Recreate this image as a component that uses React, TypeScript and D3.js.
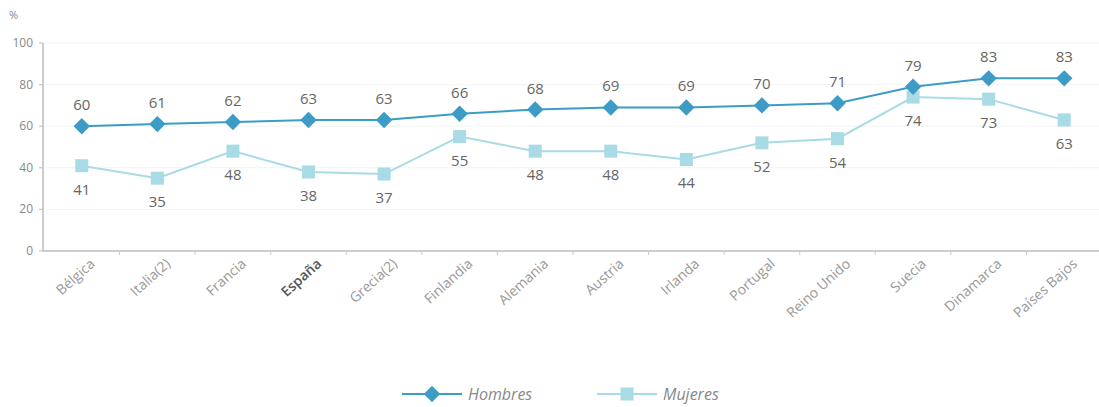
import React from "react";
import * as d3 from "d3";

const countries = [
  "Bélgica", "Italia(2)", "Francia", "España", "Grecia(2)", "Finlandia", "Alemania",
  "Austria", "Irlanda", "Portugal", "Reino Unido", "Suecia", "Dinamarca", "Países Bajos",
];
const hombres = [60, 61, 62, 63, 63, 66, 68, 69, 69, 70, 71, 79, 83, 83];
const mujeres = [41, 35, 48, 38, 37, 55, 48, 48, 44, 52, 54, 74, 73, 63];
const yTicks = [0, 20, 40, 60, 80, 100];

const W = 1099;
const H = 407;
const HOMBRES_COLOR = "#3d9cc6";
const MUJERES_COLOR = "#a9dbe6";
const FONT = "'Open Sans', sans-serif";

export default function App() {
  const x = d3.scaleBand<string>().domain(countries).range([44, 1102]);
  const y = d3.scaleLinear().domain([0, 100]).range([251, 43]);
  const cx = (c: string) => (x(c) ?? 0) + x.bandwidth() / 2;

  const line = d3
    .line<number>()
    .x((_, i) => cx(countries[i]))
    .y((d) => y(d));

  // diamond = square turned 45 degrees
  const diamond = d3.symbol(d3.symbolSquare, 135)();
  const square = d3.symbol(d3.symbolSquare, 170)();

  return (
    <svg width={W} height={H} style={{ position: "absolute", left: 0, top: 0, background: "#fff" }}>
      <g fontFamily={FONT}>
        {/* grid */}
        {yTicks.slice(1).map((t) => (
          <line key={t} x1={44} x2={1099} y1={y(t)} y2={y(t)} stroke="#f3f3f3" />
        ))}
        {/* y axis */}
        <line x1={43} x2={43} y1={y(100)} y2={y(0)} stroke="#9a9a9a" />
        {yTicks.map((t) => (
          <g key={t}>
            <line x1={39} x2={43} y1={y(t)} y2={y(t)} stroke="#bbb" />
            <text x={33} y={y(t) + 4} textAnchor="end" fontSize={12} fill="#888">
              {t}
            </text>
          </g>
        ))}
        <text x={9} y={19} fontSize={11} fill="#888">%</text>
        {/* x axis */}
        <line x1={43} x2={1099} y1={y(0)} y2={y(0)} stroke="#9a9a9a" />
        {countries.slice(1).map((c) => (
          <line key={c} x1={x(c)} x2={x(c)} y1={y(0)} y2={y(0) + 4} stroke="#ccc" />
        ))}
        {countries.map((c) => (
          <text
            key={c}
            transform={`translate(${cx(c) + 14},${y(0) + 14}) rotate(-42)`}
            textAnchor="end"
            fontSize={14}
            fill={c === "España" ? "#555" : "#999"}
            fontWeight={c === "España" ? 600 : 400}
          >
            {c}
          </text>
        ))}
        {/* mujeres */}
        <path d={line(mujeres) ?? ""} fill="none" stroke={MUJERES_COLOR} strokeWidth={2} />
        {mujeres.map((v, i) => (
          <g key={i}>
            <path d={square} transform={`translate(${cx(countries[i])},${y(v)})`} fill={MUJERES_COLOR} />
            <text x={cx(countries[i])} y={y(v) + 29} textAnchor="middle" fontSize={15} fill="#666">
              {v}
            </text>
          </g>
        ))}
        {/* hombres */}
        <path d={line(hombres) ?? ""} fill="none" stroke={HOMBRES_COLOR} strokeWidth={2} />
        {hombres.map((v, i) => (
          <g key={i}>
            <path
              d={diamond}
              transform={`translate(${cx(countries[i])},${y(v)}) rotate(45)`}
              fill={HOMBRES_COLOR}
            />
            <text x={cx(countries[i])} y={y(v) - 16} textAnchor="middle" fontSize={15} fill="#666">
              {v}
            </text>
          </g>
        ))}
        {/* legend */}
        <g transform="translate(0,394)">
          <line x1={402} x2={462} y1={0} y2={0} stroke={HOMBRES_COLOR} strokeWidth={2} />
          <path d={diamond} transform="translate(432,0) rotate(45)" fill={HOMBRES_COLOR} />
          <text x={468} y={6} fontSize={16} fontStyle="italic" fill="#888">Hombres</text>
          <line x1={597} x2={657} y1={0} y2={0} stroke={MUJERES_COLOR} strokeWidth={2} />
          <path d={square} transform="translate(627,0)" fill={MUJERES_COLOR} />
          <text x={663} y={6} fontSize={16} fontStyle="italic" fill="#888">Mujeres</text>
        </g>
      </g>
    </svg>
  );
}
